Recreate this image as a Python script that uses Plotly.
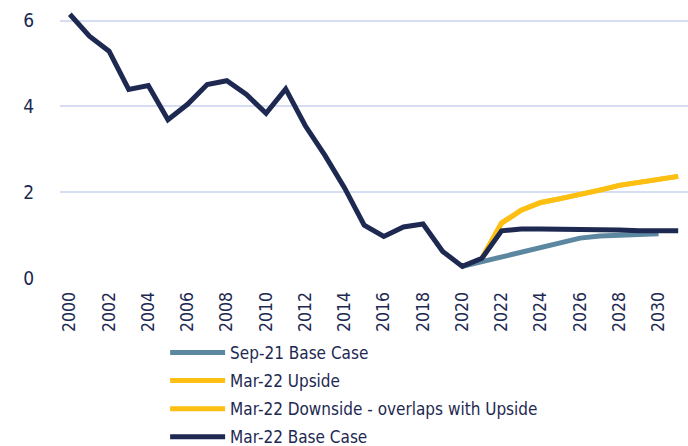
import plotly.graph_objects as go

years = list(range(2000, 2032))

base_mar22 = [6.15, 5.64, 5.29, 4.40, 4.49, 3.69, 4.05, 4.51, 4.60, 4.28, 3.84, 4.41,
              3.55, 2.86, 2.10, 1.23, 0.97, 1.19, 1.26, 0.62, 0.27, 0.46,
              1.10, 1.14, 1.14, 1.14, 1.13, 1.12, 1.12, 1.10, 1.11, 1.10]

sep21_years = list(range(2020, 2031))
sep21_base = [0.27, 0.38, 0.50, 0.60, 0.72, 0.84, 0.93, 0.98, 1.00, 1.01, 1.03]

upside_years = list(range(2021, 2032))
upside_mar22 = [0.46, 1.28, 1.58, 1.76, 1.85, 1.94, 2.05, 2.16, 2.24, 2.30, 2.37]
downside_mar22 = [0.46, 1.28, 1.58, 1.76, 1.85, 1.94, 2.05, 2.16, 2.24, 2.30, 2.37]

names = ["Sep-21 Base Case", "Mar-22 Upside",
         "Mar-22 Downside - overlaps with Upside", "Mar-22 Base Case"]

NAVY = "#1d2951"
STEEL = "#5c87a1"
YELLOW = "#fcbf12"
GRID = "#d6dcf2"
FONT = "DejaVu Sans Condensed, sans-serif"

fig = go.Figure()
series = [
    (sep21_years, sep21_base, STEEL, names[0]),
    (upside_years, upside_mar22, YELLOW, names[1]),
    (upside_years, downside_mar22, YELLOW, names[2]),
    (years, base_mar22, NAVY, names[3]),
]
for i, (xs, ys, col, nm) in enumerate(series):
    fig.add_trace(go.Scatter(
        x=[str(v) for v in xs], y=ys, mode="lines", name=nm,
        legendgroup=f"g{i}",
        line=dict(color=col, width=5, shape="linear"),
    ))

fig.update_layout(
    width=688, height=446,
    margin=dict(l=60, r=0, t=10, b=168, autoexpand=False),
    paper_bgcolor="white", plot_bgcolor="white",
    font=dict(family=FONT, color=NAVY, size=18),
    showlegend=True,
    legend=dict(
        xref="container", yref="container",
        x=0.240, y=0.249, xanchor="left", yanchor="top",
        font=dict(family=FONT, size=17, color=NAVY),
        traceorder="grouped", tracegroupgap=3,
        itemwidth=55, bgcolor="rgba(0,0,0,0)",
    ),
)
fig.update_xaxes(
    type="category", categoryorder="array", categoryarray=[str(v) for v in years],
    range=[-0.5, 31.5], automargin=False,
    tickvals=[str(v) for v in years[::2]], tickangle=-90,
    showgrid=False, zeroline=False, showline=False,
    ticks="outside", ticklen=6, tickcolor="rgba(0,0,0,0)",
    tickfont=dict(family=FONT, size=17.5, color=NAVY),
)
fig.update_yaxes(
    range=[0, 6.25], tickvals=[0, 2, 4, 6], automargin=False,
    showgrid=True, gridcolor=GRID, gridwidth=2,
    zeroline=False, showline=False,
    ticks="outside", ticklen=21, tickcolor="rgba(0,0,0,0)",
    tickfont=dict(family=FONT, size=19, color=NAVY),
)

fig.write_html(
    "out.html",
    config={"displayModeBar": False},
    post_script="document.body.style.margin='0';document.body.style.overflow='hidden';",
)
